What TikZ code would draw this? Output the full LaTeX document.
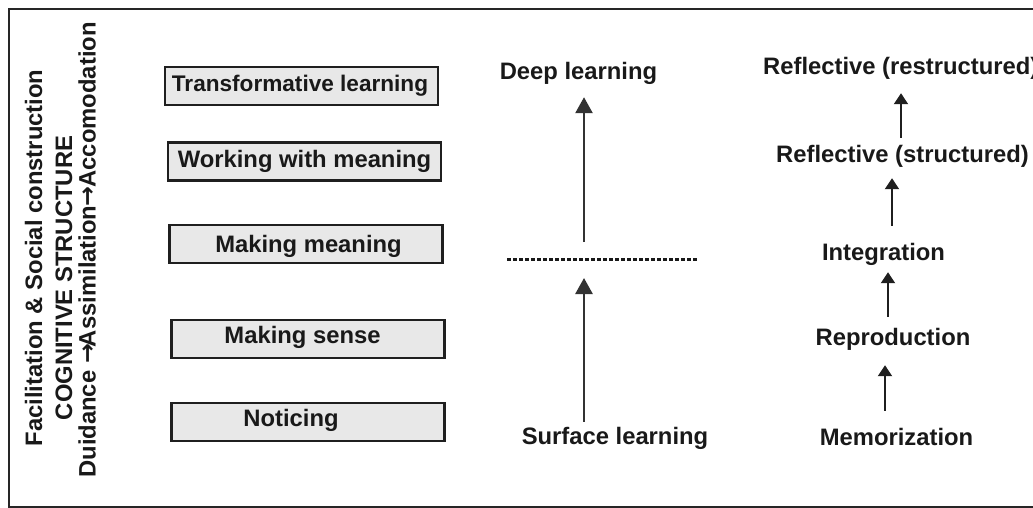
\documentclass[tikz,border=0pt]{standalone}
\usepackage{fontspec}
\setmainfont{Liberation Sans}
\newfontfamily\arrowfont{DejaVu Sans}
\newcommand{\longarr}{{\arrowfont\bfseries →}}
\usetikzlibrary{arrows.meta}
\begin{document}
\begin{tikzpicture}[x=1pt,y=-1pt,
  every node/.style={font=\fontsize{23.8}{28}\selectfont\bfseries, text=black!90, inner sep=0pt},
  stagebox/.style={draw=black!88, line width=2.4pt, fill=black!9, minimum width=273pt, minimum height=38pt},
  lbl/.style={anchor=base, text height=17.5pt, text depth=5pt},
  sidetxt/.style={anchor=base, rotate=90},
  bigrise/.style={draw=black!80, line width=2.6pt, -{Triangle[width=17pt,length=16pt]}},
  rise/.style={draw=black!88, line width=2pt, -{Triangle[width=14pt,length=11pt]}},
  dots/.style={draw=black!90, line width=3pt, dash pattern=on 3.5pt off 2.5pt},
]
\useasboundingbox (0,0) rectangle (1033,508);
\clip (0,0) rectangle (1033,508);

% outer frame
\draw[line width=2.5pt, draw=black!85] (9,9) rectangle (1060,507.5);

% side captions
\node[sidetxt] (cap1) at (42,258) {Facilitation \& Social construction};
\node[sidetxt] (cap2) at (72,278) {COGNITIVE STRUCTURE};
\node[sidetxt] (cap3) at (95.5,250) {Duidance \longarr\kern-3pt Assimilation\kern-1pt\longarr\kern-1pt Accomodation};

% stage boxes
\node[stagebox] (s5) at (301.5,86) {};
\node[stagebox] (s4) at (304.5,161.5) {};
\node[stagebox] (s3) at (306,244) {};
\node[stagebox] (s2) at (308,339) {};
\node[stagebox] (s1) at (308,422) {};
\node[anchor=base] (t5) at (300,92) {\fontsize{22.6}{28}\selectfont Transformative learning};
\node[anchor=base] (t4) at (304.5,167) {Working with meaning};
\node[anchor=base] (t3) at (308.5,252) {Making meaning};
\node[anchor=base] (t2) at (302.5,343.5) {Making sense};
\node[anchor=base] (t1) at (291,426) {Noticing};

% surface / deep learning
\node[lbl] (deep) at (578.5,80) {Deep learning};
\node[lbl] (surf) at (615,444) {Surface learning};
\coordinate (gapL) at (507,259);
\coordinate (gapR) at (697,259);
\coordinate (axis) at (584,259);
\draw[dots] (gapL) -- (gapR);
\draw[bigrise, shorten <=4.5pt, shorten >=19pt] (surf.north -| axis) -- (axis);
\draw[bigrise, shorten <=17pt, shorten >=12pt] (axis) -- (deep.south -| axis);

% levels of reflection
\node[lbl, anchor=base west] (r5) at (763,75) {Reflective (restructured)};
\node[lbl] (r4) at (902.5,162) {Reflective (structured)};
\node[lbl] (r3) at (883.5,260) {Integration};
\node[lbl] (r2) at (893,345) {Reproduction};
\node[lbl] (r1) at (896.5,445) {Memorization};
\coordinate (ax1) at (901,0);
\coordinate (ax2) at (892,0);
\coordinate (ax3) at (888,0);
\coordinate (ax4) at (885,0);
\draw[rise, shorten <=6.5pt, shorten >=13pt] (r4.north -| ax1) -- (r5.south -| ax1);
\draw[rise, shorten <=16.5pt, shorten >=11pt] (r3.north -| ax2) -- (r4.south -| ax2);
\draw[rise, shorten <=10.5pt, shorten >=7pt] (r2.north -| ax3) -- (r3.south -| ax3);
\draw[rise, shorten <=16.5pt, shorten >=15pt] (r1.north -| ax4) -- (r2.south -| ax4);
\end{tikzpicture}
\end{document}
